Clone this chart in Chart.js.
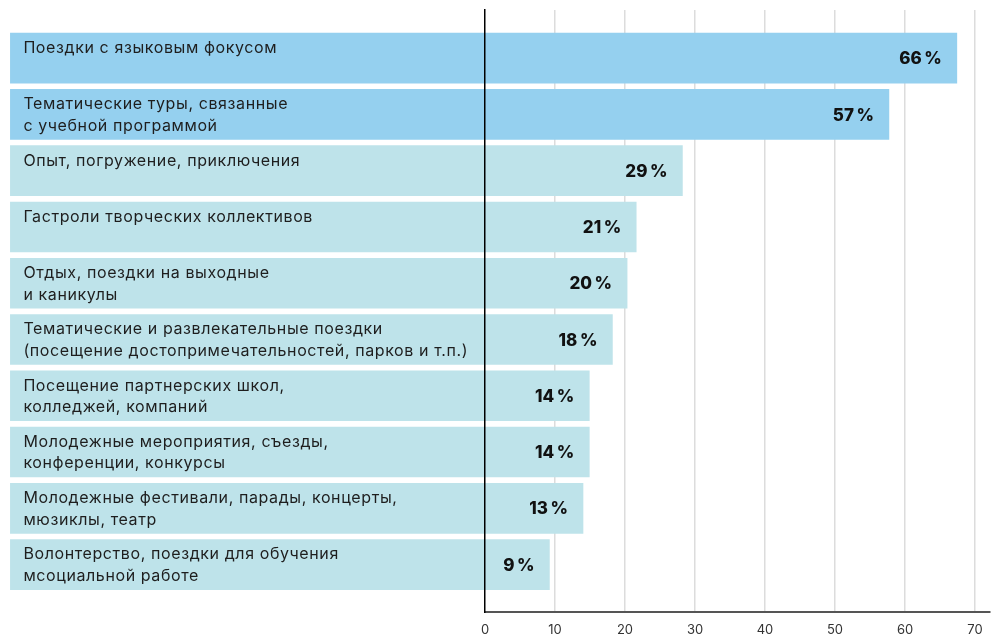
<!DOCTYPE html>
<html lang="ru">
<head>
<meta charset="utf-8">
<title>Виды поездок</title>
<script src="https://cdn.jsdelivr.net/npm/chart.js@4.4.1/dist/chart.umd.min.js"></script>
<style>
  html, body { margin: 0; padding: 0; background: #fff; overflow: hidden; }
  #wrap { width: 996px; height: 637px; position: relative; }
</style>
</head>
<body>
<div id="wrap"><canvas id="chart"></canvas></div>
<script>
// categories, top to bottom
const categories = [
  ['Поездки с языковым фокусом'],
  ['Тематические туры, связанные', 'с учебной программой'],
  ['Опыт, погружение, приключения'],
  ['Гастроли творческих коллективов'],
  ['Отдых, поездки на выходные', 'и каникулы'],
  ['Тематические и развлекательные поездки', '(посещение достопримечательностей, парков и т.п.)'],
  ['Посещение партнерских школ,', 'колледжей, компаний'],
  ['Молодежные мероприятия, съезды,', 'конференции, конкурсы'],
  ['Молодежные фестивали, парады, концерты,', 'мюзиклы, театр'],
  ['Волонтерство, поездки для обучения', 'мсоциальной работе']
];
// printed shares, %
const shares = [66, 57, 29, 21, 20, 18, 14, 14, 13, 9];
// where each bar ends on the axis (as drawn in the source)
const barEnds = [67.4, 57.7, 28.2, 21.6, 20.3, 18.2, 14.9, 14.9, 14.0, 9.2];
// bars start far left of zero so the labels sit inside them
const barStart = -67.8;
const xTicks = [0, 10, 20, 30, 40, 50, 60, 70];

const highlightColor = '#95d0ef';
const baseColor = '#bee3ea';

// category names inside the bars + share at the bar end
const labelsPlugin = {
  id: 'barLabels',
  afterDatasetsDraw(chart) {
    const { ctx, scales: { x, y } } = chart;
    ctx.save();
    categories.forEach((lines, i) => {
      const cy = y.getPixelForValue(i);
      ctx.fillStyle = '#1e1e1e';
      ctx.font = '16px Inter, "Noto Sans", sans-serif';
      ctx.letterSpacing = '0.6px';
      ctx.textAlign = 'left';
      ctx.textBaseline = 'middle';
      lines.forEach((line, k) => {
        ctx.fillText(line, x.getPixelForValue(barStart) + 13, cy - 10 + k * 21.5);
      });
      ctx.fillStyle = '#111';
      ctx.letterSpacing = '0px';
      ctx.font = '800 17px Inter, "Noto Sans", sans-serif';
      ctx.textAlign = 'right';
      ctx.fillText(shares[i] + '\u2009%', x.getPixelForValue(barEnds[i]) - 15, cy + 1);
    });
    ctx.restore();
  }
};

new Chart(document.getElementById('chart'), {
  type: 'bar',
  data: {
    datasets: [{
      data: barEnds.map((v, i) => ({ x: [barStart, v], y: i })),
      backgroundColor: barEnds.map((v, i) => i < 2 ? highlightColor : baseColor),
      borderWidth: 0,
      barThickness: 50,
      clip: false
    }]
  },
  options: {
    indexAxis: 'y',
    responsive: true,
    maintainAspectRatio: false,
    animation: false,
    layout: { padding: { left: 485, right: 6, top: 10, bottom: -10.6 } },
    plugins: { legend: { display: false }, tooltip: { enabled: false } },
    scales: {
      x: {
        type: 'linear',
        min: 0,
        max: 72.14,
        afterBuildTicks: s => { s.ticks = xTicks.map(v => ({ value: v })); },
        grid: {
          color: c => c.tick && c.tick.value === 0 ? 'rgba(0,0,0,0)' : '#dcdcdc',
          lineWidth: 1.5,
          drawTicks: false
        },
        border: { display: true, color: '#555', width: 2 },
        ticks: {
          padding: 10,
          color: '#333',
          font: { family: 'Inter, "Noto Sans", sans-serif', size: 13 }
        }
      },
      y: {
        type: 'linear',
        reverse: true,
        offset: false,
        min: -0.856,
        max: 9.843,
        grid: { display: false, drawTicks: false },
        ticks: { display: false },
        border: { display: true, color: '#000', width: 1.5, z: 1 }
      }
    }
  },
  plugins: [labelsPlugin]
});
</script>
</body>
</html>
